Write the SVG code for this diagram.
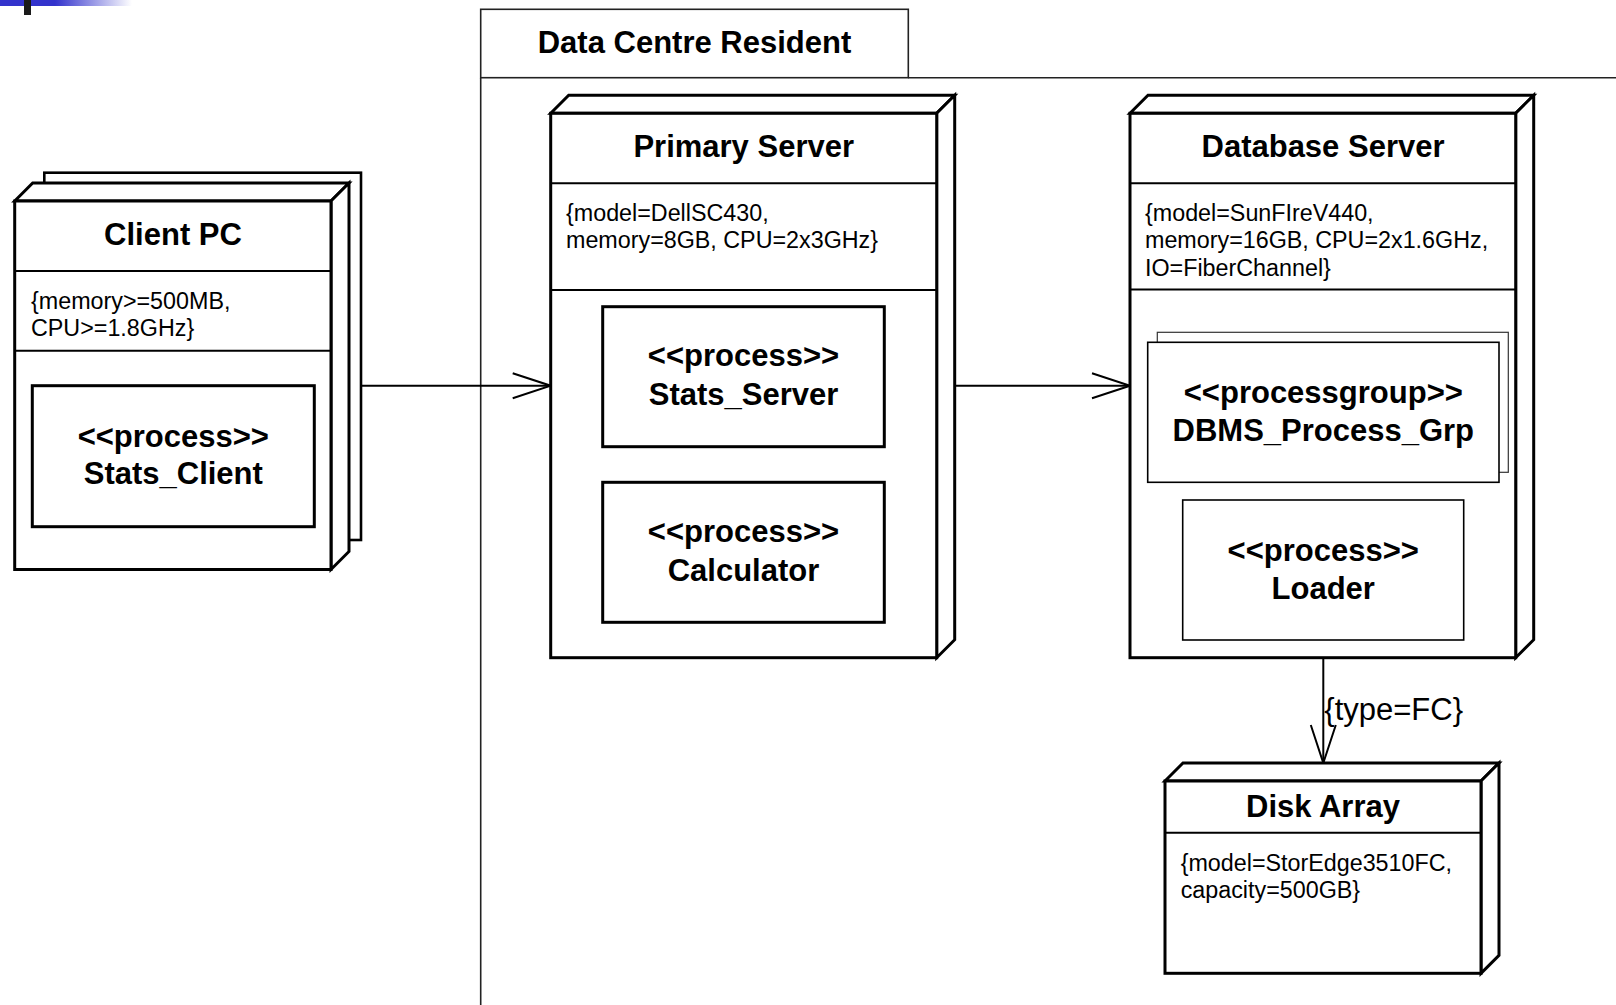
<svg xmlns="http://www.w3.org/2000/svg" width="1616" height="1005" viewBox="0 0 1616 1005">
  <defs>
    <linearGradient id="hdr" x1="55" y1="0" x2="132" y2="0" gradientUnits="userSpaceOnUse">
      <stop offset="0" stop-color="#3333cc"/>
      <stop offset="1" stop-color="#ffffff"/>
    </linearGradient>
    <marker id="open" viewBox="0 0 40 28" refX="39" refY="14" markerWidth="40" markerHeight="28" markerUnits="userSpaceOnUse" orient="auto">
      <path d="M1,1.5 L39,14 L1,26.5" fill="none" stroke="#000" stroke-width="2"/>
    </marker>
    <style>
      .node { fill: #fff; stroke: #000; stroke-width: 3; stroke-linejoin: miter; }
      .sep { stroke: #000; stroke-width: 2; }
      .frame { fill: none; stroke: #222; stroke-width: 1.6; }
      .boxthick { fill: #fff; stroke: #000; stroke-width: 3; }
      .boxthin { fill: #fff; stroke: #000; stroke-width: 1.6; }
      .boxback { fill: #fff; stroke: #333; stroke-width: 1.2; }
      .name { font-family: "Liberation Sans", Arial, sans-serif; font-weight: bold; font-size: 31px; text-anchor: middle; fill: #000; }
      .attr { font-family: "Liberation Sans", Arial, sans-serif; font-size: 23.3px; fill: #000; }
      .lbl { font-family: "Liberation Sans", Arial, sans-serif; font-size: 31px; fill: #000; }
      .conn { fill: none; stroke: #000; stroke-width: 2; }
    </style>
  </defs>
  <rect width="1616" height="1005" fill="#fff"/>

  <!-- header decoration -->
  <g id="header">
    <rect x="0" y="0" width="56" height="6" fill="#3333cc"/>
    <rect x="55" y="0" width="78" height="6" fill="url(#hdr)"/>
    <rect x="24" y="0" width="7" height="15" fill="#1a1a1a"/>
  </g>

  <!-- frame -->
  <g id="frame-data-centre">
    <rect class="frame" x="480.7" y="9.3" width="427.6" height="68.4"/>
    <line class="frame" x1="908.3" y1="77.7" x2="1616" y2="77.7"/>
    <line class="frame" x1="480.7" y1="77.7" x2="480.7" y2="1005"/>
    <text class="name" x="694.5" y="53.3">Data Centre Resident</text>
  </g>

  <!-- Client PC -->
  <g id="node-client-pc">
    <rect class="node" x="44.3" y="172.7" width="316.7" height="367.3" style="stroke-width:2.6"/>
    <polygon class="node" points="14.7,201 32.7,183 349,183 331,201"/>
    <polygon class="node" points="331,201 349,183 349,551.5 331,569.5"/>
    <rect class="node" x="14.7" y="201" width="316.3" height="368.5"/>
    <line class="sep" x1="14.7" y1="271" x2="331" y2="271"/>
    <line class="sep" x1="14.7" y1="350.7" x2="331" y2="350.7"/>
    <text class="name" x="173" y="244.5">Client PC</text>
    <text class="attr" x="31" y="308.5">{memory&gt;=500MB,</text>
    <text class="attr" x="31" y="336">CPU&gt;=1.8GHz}</text>
  </g>
  <g id="proc-stats-client">
    <rect class="boxthick" x="32.3" y="385.7" width="282" height="141"/>
    <text class="name" x="173.3" y="446.5">&lt;&lt;process&gt;&gt;</text>
    <text class="name" x="173.3" y="483.5">Stats_Client</text>
  </g>

  <!-- Primary Server -->
  <g id="node-primary-server">
    <polygon class="node" points="550.7,113.3 568.7,95.3 954.7,95.3 936.7,113.3"/>
    <polygon class="node" points="936.7,113.3 954.7,95.3 954.7,639.7 936.7,657.7"/>
    <rect class="node" x="550.7" y="113.3" width="386" height="544.4"/>
    <line class="sep" x1="550.7" y1="183.3" x2="936.7" y2="183.3"/>
    <line class="sep" x1="550.7" y1="290" x2="936.7" y2="290"/>
    <text class="name" x="743.7" y="156.7">Primary Server</text>
    <text class="attr" x="566" y="220.5">{model=DellSC430,</text>
    <text class="attr" x="566" y="248">memory=8GB, CPU=2x3GHz}</text>
  </g>
  <g id="proc-stats-server">
    <rect class="boxthick" x="602.7" y="306.7" width="281.6" height="140"/>
    <text class="name" x="743.5" y="366">&lt;&lt;process&gt;&gt;</text>
    <text class="name" x="743.5" y="404.5">Stats_Server</text>
  </g>
  <g id="proc-calculator">
    <rect class="boxthick" x="602.7" y="482.3" width="281.6" height="140"/>
    <text class="name" x="743.5" y="542">&lt;&lt;process&gt;&gt;</text>
    <text class="name" x="743.5" y="580.5">Calculator</text>
  </g>

  <!-- Database Server -->
  <g id="node-database-server">
    <polygon class="node" points="1130,113.3 1148,95.3 1533.7,95.3 1515.7,113.3"/>
    <polygon class="node" points="1515.7,113.3 1533.7,95.3 1533.7,639.7 1515.7,657.7"/>
    <rect class="node" x="1130" y="113.3" width="385.7" height="544.4"/>
    <line class="sep" x1="1130" y1="183.3" x2="1515.7" y2="183.3"/>
    <line class="sep" x1="1130" y1="289.5" x2="1515.7" y2="289.5"/>
    <text class="name" x="1323" y="156.7">Database Server</text>
    <text class="attr" x="1145" y="220.5">{model=SunFIreV440,</text>
    <text class="attr" x="1145" y="248">memory=16GB, CPU=2x1.6GHz,</text>
    <text class="attr" x="1145" y="276">IO=FiberChannel}</text>
  </g>
  <g id="procgroup-dbms">
    <rect class="boxback" x="1157.3" y="332.3" width="351" height="140"/>
    <rect class="boxthin" x="1147.7" y="342.3" width="351.3" height="140"/>
    <text class="name" x="1323.3" y="403">&lt;&lt;processgroup&gt;&gt;</text>
    <text class="name" x="1323.3" y="440.5">DBMS_Process_Grp</text>
  </g>
  <g id="proc-loader">
    <rect class="boxthin" x="1182.7" y="500" width="281" height="140"/>
    <text class="name" x="1323.2" y="560.5">&lt;&lt;process&gt;&gt;</text>
    <text class="name" x="1323.2" y="598.5">Loader</text>
  </g>

  <!-- Disk Array -->
  <g id="node-disk-array">
    <polygon class="node" points="1165,781 1183,763 1499,763 1481,781"/>
    <polygon class="node" points="1481,781 1499,763 1499,955.3 1481,973.3"/>
    <rect class="node" x="1165" y="781" width="316" height="192.3"/>
    <line class="sep" x1="1165" y1="832.7" x2="1481" y2="832.7"/>
    <text class="name" x="1323" y="817">Disk Array</text>
    <text class="attr" x="1180.7" y="870.5">{model=StorEdge3510FC,</text>
    <text class="attr" x="1180.7" y="897.5">capacity=500GB}</text>
  </g>

  <!-- connectors -->
  <g id="connectors">
    <line class="conn" x1="361" y1="385.7" x2="550.7" y2="385.7" marker-end="url(#open)"/>
    <line class="conn" x1="954.7" y1="385.7" x2="1130" y2="385.7" marker-end="url(#open)"/>
    <line class="conn" x1="1323.3" y1="657.7" x2="1323.3" y2="763" marker-end="url(#open)"/>
    <text class="lbl" x="1324.3" y="720">{type=FC}</text>
  </g>
</svg>
